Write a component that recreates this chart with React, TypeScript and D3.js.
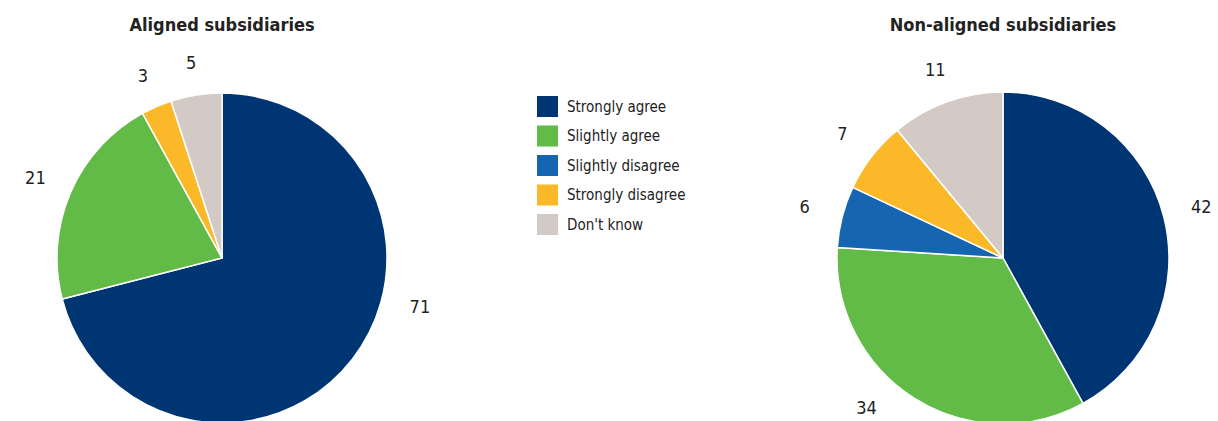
import React from "react";
import * as d3 from "d3";

const categories = ["Strongly agree", "Slightly agree", "Slightly disagree", "Strongly disagree", "Don't know"];
const colors = ["#003574", "#62bb46", "#1565b0", "#fbb829", "#d3cac6"];
const alignedValues = [71, 21, 0, 3, 5];
const nonAlignedValues = [42, 34, 6, 7, 11];
const titles = ["Aligned subsidiaries", "Non-aligned subsidiaries"];

const FONT = "'DejaVu Sans Condensed', 'DejaVu Sans', sans-serif";

// Label angle nudges (degrees) for labels moved off the slice midline
const labelNudge: Record<string, number> = { "0-0": -24, "1-1": 10 };

type PieProps = { values: number[]; cx: number; cy: number; r: number; title: string; idx: number };

function Pie({ values, cx, cy, r, title, idx }: PieProps) {
  const pie = d3.pie<number>().sort(null).value((d) => d);
  const arcs = pie(values);
  const arc = d3.arc<d3.PieArcDatum<number>>().innerRadius(0).outerRadius(r);
  return (
    <g>
      <text x={cx} y={31} textAnchor="middle" fontFamily={FONT} fontWeight="bold" fontSize={18} fill="#222">
        {title}
      </text>
      <g transform={`translate(${cx},${cy})`}>
        {arcs.map((a, i) =>
          a.value > 0 ? (
            <path key={i} d={arc(a) || ""} fill={colors[i]} stroke="#fff" strokeWidth={1.5} />
          ) : null
        )}
        {arcs.map((a, i) => {
          if (a.value <= 0) return null;
          const mid = (a.startAngle + a.endAngle) / 2 + ((labelNudge[`${idx}-${i}`] || 0) * Math.PI) / 180;
          // labels sit outside the rim; a little more clearance at the sides for the text width
          const d = r + 31 + 8 * Math.abs(Math.sin(mid));
          const x = Math.sin(mid) * d;
          const y = -Math.cos(mid) * d;
          return (
            <text key={"l" + i} x={x} y={y} dy="0.35em" textAnchor="middle" fontFamily={FONT} fontSize={18} fill="#222">
              {a.value}
            </text>
          );
        })}
      </g>
    </g>
  );
}

export default function App() {
  const width = 1218;
  const height = 421;
  return (
    <svg width={width} height={height} style={{ position: "absolute", left: 0, top: 0, background: "#fff" }}>
      <Pie values={alignedValues} cx={222} cy={258} r={165} title={titles[0]} idx={0} />
      <Pie values={nonAlignedValues} cx={1003} cy={258} r={166} title={titles[1]} idx={1} />
      <g transform="translate(537,96)">
        {categories.map((c, i) => (
          <g key={c} transform={`translate(0,${i * 29.5})`}>
            <rect width={21} height={21} fill={colors[i]} />
            <text x={30} y={10.5} dy="0.35em" fontFamily={FONT} fontSize={15} fill="#222">
              {c}
            </text>
          </g>
        ))}
      </g>
    </svg>
  );
}
